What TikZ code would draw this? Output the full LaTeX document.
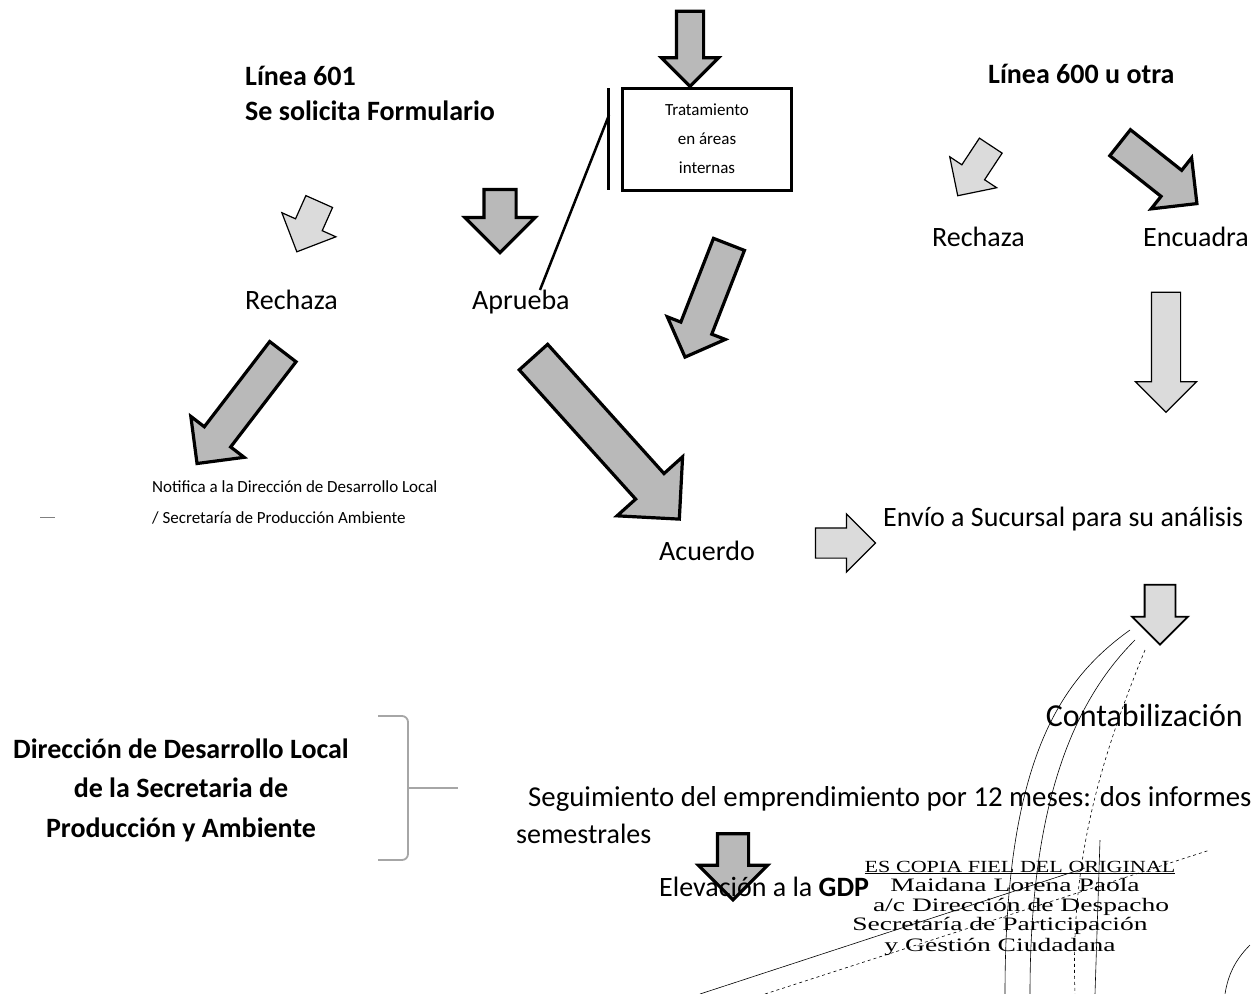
\documentclass[tikz,border=0pt]{standalone}
\usepackage{fontspec}
\setmainfont{Carlito}
\newfontfamily\stampfont{Liberation Serif}
\usetikzlibrary{shapes.arrows}
\tikzset{
  fatarrow/.style={single arrow, single arrow head indent=0pt, inner xsep=0pt, draw=black},
  darkarrow/.style={fatarrow, fill=gray!55, line width=3.2pt},
  lightarrow/.style={fatarrow, fill=gray!28, line width=1.2pt},
  txt/.style={font=\fontsize{28}{34}\selectfont, inner sep=0pt, anchor=base west},
  head/.style={txt, font=\fontsize{28}{34}\selectfont\bfseries},
  small/.style={txt, font=\fontsize{17}{20}\selectfont},
  stamp/.style={inner sep=0pt, anchor=base, font=\stampfont\fontsize{19}{20}\selectfont},
  sign/.style={line width=0.6pt}
}
\newcommand{\stampline}[1]{\scalebox{1.45}[1]{#1}}
\begin{document}
\begin{tikzpicture}[x=1pt,y=-1pt]
    \useasboundingbox (0,0) rectangle (1254,994);
    \node[darkarrow, minimum height=75, inner ysep=12, single arrow head extend=15, rotate=-90] (topdown) at (690,42) {};
    \node[head] (l601) at (245,85) {Línea 601};
    \node[head] (form) at (245,120) {Se solicita Formulario};
    \node[head] (l600) at (988,83) {Línea 600 u otra};
    \node[draw, line width=3pt, minimum width=169, minimum height=102, inner sep=0pt, align=center,
          font=\fontsize{17}{29}\selectfont] (trat) at (707,139) {Tratamiento\\en áreas\\internas};
    \coordinate (bartop) at (608,88);
    \coordinate (barbot) at (608,190);
    \coordinate (barmid) at (609,115);
    \coordinate (aprtop) at (540,290);
    \draw[line width=3pt] (bartop) -- (barbot);
    \draw[line width=2.5pt] (barmid) -- (aprtop);
    \node[lightarrow, minimum height=55, inner ysep=14, single arrow head extend=15, rotate=246] (rechA) at (311,220) {};
    \node[darkarrow, minimum height=63, inner ysep=14.5, single arrow head extend=19, rotate=-90] (aprA) at (500,213) {};
    \node[darkarrow, minimum height=121, inner ysep=15, single arrow head extend=14.5, rotate=248.7] (tratA) at (710,293) {};
    \node[lightarrow, minimum height=60, inner ysep=13, single arrow head extend=14.5, rotate=236.6] (rechB) at (978,165) {};
    \node[darkarrow, minimum height=98, inner ysep=15, single arrow head extend=16, rotate=-38.4] (encA) at (1152,168) {};
    \node[txt] (rech1) at (245,309) {Rechaza};
    \node[txt] (apr) at (472,309) {Aprueba};
    \node[txt] (rech2) at (932,246) {Rechaza};
    \node[txt] (enc) at (1143,246) {Encuadra};
    \node[lightarrow, minimum height=120, inner ysep=14, single arrow head extend=16, rotate=-90] (encB) at (1166,345) {};
    \node[darkarrow, minimum height=141, inner ysep=15, single arrow head extend=17, rotate=232.5] (notA) at (245,401) {};
    \node[darkarrow, minimum height=218, inner ysep=17.5, single arrow head extend=25, rotate=-48] (acuA) at (600,431) {};
    \node[small] (not1) at (152,492) {Notifica a la Dirección de Desarrollo Local};
    \node[small] (not2) at (152,523) {/ Secretaría de Producción Ambiente};
    \coordinate (dashl) at (40,517);
    \coordinate (dashr) at (55,517);
    \draw[gray, line width=1pt] (dashl) -- (dashr);
    \node[txt] (acu) at (659,560) {Acuerdo};
    \node[lightarrow, minimum height=60, inner ysep=14.5, single arrow head extend=14, rotate=0] (envA) at (838,543) {};
    \node[txt] (env) at (883,526) {Envío a Sucursal para su análisis};
    \node[lightarrow, line width=1.8pt, minimum height=60, inner ysep=14.5, single arrow head extend=12.5, rotate=-90] (contA) at (1160,607) {};
    \node[txt, anchor=base east, font=\fontsize{32}{36}\selectfont] (cont) at (1243,726) {Contabilización};
    \node[head, anchor=base] (dir1) at (181,758) {Dirección de Desarrollo Local};
    \node[head, anchor=base] (dir2) at (181,797) {de la Secretaria de};
    \node[head, anchor=base] (dir3) at (181,837) {Producción y Ambiente};
    \coordinate (brtop) at (378,716);
    \coordinate (brbot) at (378,860);
    \coordinate (brmid) at (409,788);
    \coordinate (brtip) at (458,788);
    \draw[gray!70, line width=1.8pt, rounded corners=6pt] (brtop) -- (408,716) -- (408,860) -- (brbot);
    \draw[gray!70, line width=1.4pt] (brmid) -- (brtip);
    \node[txt, font=\fontsize{28.8}{34}\selectfont] (seg1) at (528,806) {Seguimiento del emprendimiento por 12 meses: dos informes};
    \node[txt] (seg2) at (516,843) {semestrales};
    \node[darkarrow, minimum height=66, inner ysep=14, single arrow head extend=19, rotate=-90] (gdpA) at (733,859) {};
    \node[txt] (gdp) at (659,896) {Elevación a la \textbf{GDP}};
    \node[stamp, font=\stampfont\fontsize{17}{20}\selectfont] (st1) at (1020,872) {\scalebox{1.3}[1]{\underline{ES COPIA FIEL DEL ORIGINAL}}};
    \node[stamp] (st2) at (1015,891) {\stampline{Maidana Lorena Paola}};
    \node[stamp] (st3) at (1021,911) {\stampline{a/c Dirección de Despacho}};
    \node[stamp] (st4) at (1000,930) {\stampline{Secretaría de Participación}};
    \node[stamp] (st5) at (1000,951) {\stampline{y Gestión Ciudadana}};
    \draw[sign] (1130,630) .. controls (1060,680) and (1005,760) .. (1005,994);
    \draw[sign] (1135,640) .. controls (1075,700) and (1030,800) .. (1030,994);
    \draw[sign, dashed] (1145,650) .. controls (1100,760) and (1070,860) .. (1075,994);
    \draw[sign] (1100,840) -- (1095,994);
    \draw[sign] (700,994) -- (1085,868);
    \draw[sign, dashed] (765,994) -- (1210,850);
    \draw[sign] (1250,945) .. controls (1235,960) and (1228,975) .. (1225,994);
\end{tikzpicture}
\end{document}
